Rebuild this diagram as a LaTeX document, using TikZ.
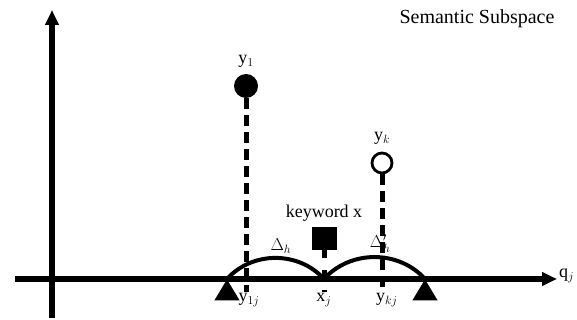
\documentclass[tikz,border=0pt]{standalone}
\usepackage{fontspec}
\setmainfont{Liberation Serif}
\usetikzlibrary{positioning,shapes.geometric,arrows.meta}
\begin{document}
\begin{tikzpicture}[x=1pt,y=-1pt,
    axis/.style={line width=5.5pt,-{Triangle[length=15pt,width=13pt]}},
    drop/.style={line width=5pt,dash pattern=on 11pt off 6pt},
    span/.style={line width=4pt},
    lbl/.style={font=\fontsize{18}{20}\selectfont,inner sep=0pt},
    point/.style={circle,inner sep=0pt,minimum size=#1},
    peak/.style={isosceles triangle,shape border rotate=90,fill,
        isosceles triangle apex angle=62,minimum height=21pt,inner sep=0pt,anchor=apex}]
    \useasboundingbox (0,0) rectangle (577,320);
    % axes
    \coordinate (xstart) at (15,279);
    \coordinate (xend) at (557,279);
    \coordinate (ybot) at (52,318);
    \coordinate (ytop) at (52,10);
    \draw[axis] (xstart) -- (xend);
    \draw[axis] (ybot) -- (ytop);
    \node[lbl, right=2pt of xend, yshift=3pt] (qj) {$\mathrm{q}_j$};
    \node[font=\fontsize{20}{22}\selectfont, inner sep=0pt] (title) at (477,19) {Semantic Subspace};
    % points
    \node[point=24pt, fill] (y1) at (246,86) {};
    \node[point=20pt, draw, line width=2.8pt] (yk) at (382,163) {};
    \node[rectangle, fill, minimum width=25pt, minimum height=23pt, inner sep=0pt] (kw) at (324,238) {};
    \node[lbl, above=6pt of y1] (y1lbl) {$\mathrm{y}_1$};
    \node[lbl, above=7pt of yk] (yklbl) {$\mathrm{y}_k$};
    \node[font=\fontsize{18}{20}\selectfont, inner sep=0pt, above=5pt of kw] (kwlbl) {keyword x};
    % feet on the axis
    \coordinate (y1j) at (246,292);
    \coordinate (ykj) at (382,292);
    \coordinate (xj) at (324,292);
    \draw[drop] (y1) -- (y1j);
    \draw[drop] (yk) -- (ykj);
    \draw[drop, dash pattern=on 8pt off 12pt] (kw.south) -- (xj);
    \node[lbl, below=1pt of y1j, xshift=3pt] (y1jlbl) {$\mathrm{y}_{1j}$};
    \node[lbl, below=1pt of xj] (xjlbl) {$\mathrm{x}_j$};
    \node[lbl, below=1pt of ykj, xshift=5pt] (ykjlbl) {$\mathrm{y}_{kj}$};
    % neighbourhood arcs
    \coordinate (lo) at (227,279);
    \coordinate (mid) at (324,279);
    \coordinate (hi) at (425,279);
    \draw[span] (lo) to[bend left=48] node[lbl, above=3pt, pos=0.55] (dl) {$\Delta_h$} (mid);
    \draw[span] (mid) to[bend left=48] node[lbl, above=3pt, pos=0.55] (dr) {$\Delta'_h$} (hi);
    \node[peak] (tl) at (lo) {};
    \node[peak] (tr) at (hi) {};
\end{tikzpicture}
\end{document}
